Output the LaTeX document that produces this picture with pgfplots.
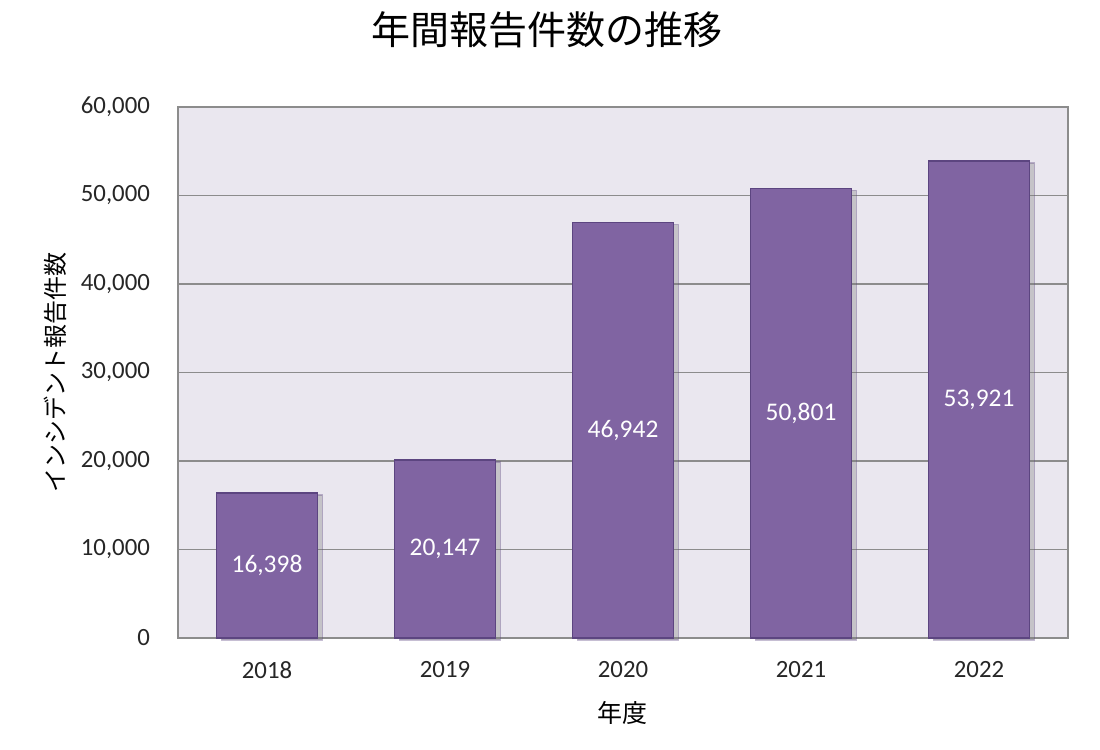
\documentclass[border=0pt]{standalone}
\usepackage{fontspec}
\setmainfont{Carlito}
\newfontfamily\jp{Noto Sans CJK JP}
\usepackage{pgfplots}
\pgfplotsset{compat=1.18}
\usetikzlibrary{shadows}

\definecolor{barfill}{HTML}{8064A2}
\definecolor{barline}{HTML}{5C4580}
\definecolor{plotbg}{HTML}{EAE7EF}
\definecolor{gridc}{HTML}{8C8C8C}

\begin{document}
\begin{tikzpicture}
  \begin{axis}[
    at={(0,0)}, anchor=south west,
    scale only axis,
    width=445pt, height=265.5pt,
    xmin=-0.5, xmax=4.5,
    ymin=0, ymax=60000,
    ytick={0,10000,...,60000},
    xtick=data,
    xticklabels={2018,2019,2020,2021,2022},
    scaled y ticks=false,
    /pgf/number format/.cd, 1000 sep={,}, assume math mode=true,
    /pgfplots/.cd,
    axis background/.style={fill=plotbg},
    axis line style={gridc, line width=0.8pt},
    ymajorgrids,
    major grid style={gridc, line width=0.8pt},
    major tick length=0pt,
    tick label style={font=\fontsize{12.4}{14}\selectfont, text=black!85},
    yticklabel style={anchor=east, xshift=-10.5pt},
    xticklabel style={anchor=center, yshift=-16pt},
    title={\jp 年間報告件数の推移},
    title style={font=\jp\fontsize{19.5}{22}\selectfont,
      at={(axis description cs:0.415,1)}, anchor=center, yshift=32.5pt},
    xlabel={\jp 年度},
    xlabel style={font=\jp\fontsize{12.5}{14}\selectfont,
      at={(axis description cs:0.5,0)}, anchor=center, yshift=-37.5pt},
    ylabel={\jp インシデント報告件数},
    ylabel style={font=\jp\fontsize{12}{14}\selectfont,
      at={(axis description cs:0,0.5)}, anchor=center, yshift=61.5pt},
    clip=false,
  ]
    \addplot[
      ybar, bar width=50.5pt,
      fill=barfill, draw=barline, line width=0.8pt,
      drop shadow={shadow xshift=2.5pt, shadow yshift=-1pt, opacity=0.35},
      visualization depends on=y \as \rawy,
      nodes near coords,
      every node near coord/.append style={
        anchor=center, text=white,
        font=\fontsize{12.7}{14}\selectfont,
        shift={(axis direction cs:0,-\rawy/2)}},
    ] coordinates {
      (0,16398) (1,20147) (2,46942) (3,50801) (4,53921)
    };
  \end{axis}
  \path (-89pt,-56pt) rectangle (461pt,319pt);
\end{tikzpicture}
\end{document}
